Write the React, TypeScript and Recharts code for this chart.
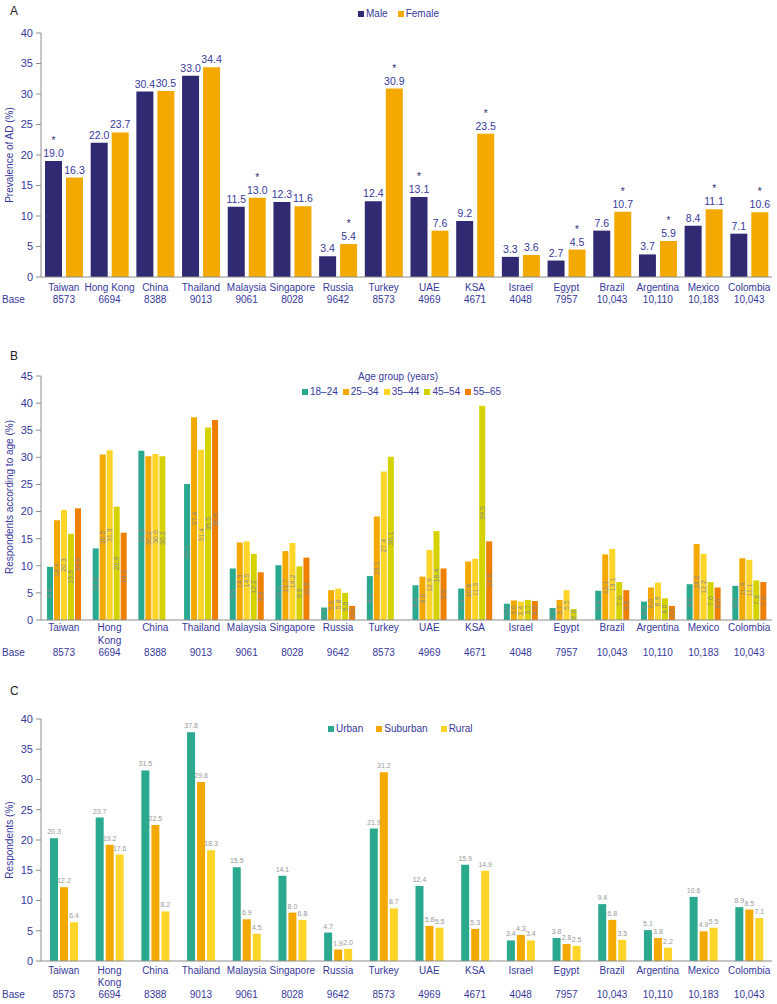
import React from 'react';
import { BarChart, Bar, XAxis, YAxis, LabelList } from 'recharts';

// ---------- shared categories ----------
const countries = ['Taiwan', 'Hong Kong', 'China', 'Thailand', 'Malaysia', 'Singapore', 'Russia', 'Turkey', 'UAE', 'KSA', 'Israel', 'Egypt', 'Brazil', 'Argentina', 'Mexico', 'Colombia'];
const bases = ['8573', '6694', '8388', '9013', '9061', '8028', '9642', '8573', '4969', '4671', '4048', '7957', '10,043', '10,110', '10,183', '10,043'];

// ---------- Panel A: prevalence by sex ----------
const maleAD = [19.0, 22.0, 30.4, 33.0, 11.5, 12.3, 3.4, 12.4, 13.1, 9.2, 3.3, 2.7, 7.6, 3.7, 8.4, 7.1];
const femaleAD = [16.3, 23.7, 30.5, 34.4, 13.0, 11.6, 5.4, 30.9, 7.6, 23.5, 3.6, 4.5, 10.7, 5.9, 11.1, 10.6];
const maleSig = [true, false, false, false, false, false, false, false, true, false, false, false, false, false, false, false];
const femaleSig = [false, false, false, false, true, false, true, true, false, true, false, true, true, true, true, true];
const ticksA = [0, 5, 10, 15, 20, 25, 30, 35, 40];

// ---------- Panel B: by age group ----------
const age1824 = [9.8, 13.2, 31.2, 25.1, 9.5, 10.1, 2.3, 8.1, 6.4, 5.8, 3.0, 2.2, 5.4, 3.4, 6.6, 6.3];
const age2534 = [18.4, 30.5, 30.2, 37.4, 14.3, 12.7, 5.5, 19.1, 8.0, 10.8, 3.6, 3.7, 12.1, 6.0, 14.0, 11.4];
const age3544 = [20.3, 31.3, 30.6, 31.4, 14.5, 14.2, 5.8, 27.4, 12.9, 11.3, 3.4, 5.5, 13.1, 6.9, 12.2, 11.1];
const age4554 = [15.9, 20.9, 30.2, 35.5, 12.2, 9.9, 5.0, 30.1, 16.4, 39.5, 3.7, 2.0, 7.0, 4.0, 7.0, 7.3];
const age5565 = [20.6, 16.1, null, 36.9, 8.8, 11.5, 2.6, null, 9.5, 14.5, 3.5, null, 5.5, 2.6, 6.0, 7.0];
const ageGroups = ['18–24', '25–34', '35–44', '45–54', '55–65'];
const ticksB = [0, 5, 10, 15, 20, 25, 30, 35, 40, 45];

// ---------- Panel C: by residence ----------
const urban = [20.3, 23.7, 31.5, 37.8, 15.5, 14.1, 4.7, 21.9, 12.4, 15.9, 3.4, 3.8, 9.4, 5.1, 10.6, 8.9];
const suburban = [12.2, 19.2, 22.5, 29.6, 6.9, 8.0, 1.9, 31.2, 5.8, 5.3, 4.3, 2.8, 6.8, 3.8, 4.9, 8.5];
const rural = [6.4, 17.6, 8.2, 18.3, 4.5, 6.8, 2.0, 8.7, 5.5, 14.9, 3.4, 2.5, 3.5, 2.2, 5.5, 7.1];
const areas = ['Urban', 'Suburban', 'Rural'];
const ticksC = [0, 5, 10, 15, 20, 25, 30, 35, 40];

const dataA = countries.map((c, i) => ({ country: c, male: maleAD[i], female: femaleAD[i] }));
const dataB = countries.map((c, i) => ({ country: c, a1: age1824[i], a2: age2534[i], a3: age3544[i], a4: age4554[i], a5: age5565[i] }));
const dataC = countries.map((c, i) => ({ country: c, urban: urban[i], suburban: suburban[i], rural: rural[i] }));

// ---------- styling ----------
const FONT = '"Liberation Sans", Arial, Helvetica, sans-serif';
const BLUE = '#37399c';
const AXIS = '#8c8c8c';
const NAVY = '#2f2a72';
const GOLD = '#f4a900';
const TEAL = '#2aa98e';
const YELLOW = '#ffd52a';
const LIME = '#d6d200';
const DORANGE = '#ef7f00';
const ageColors = [TEAL, GOLD, YELLOW, LIME, DORANGE];
const areaColors = [TEAL, GOLD, YELLOW];

function makeTick(nameDy: number, kongDy: number | null, baseDy: number) {
  return (props: any) => {
    const { x, y, payload } = props;
    const name = payload.value as string;
    const i = countries.indexOf(name);
    const wrap = kongDy != null && name === 'Hong Kong';
    const common = { fontSize: 10, fontFamily: FONT, fill: BLUE, textAnchor: 'middle' as const };
    return (
      <g>
        {wrap ? (
          <>
            <text x={x} y={y + nameDy} {...common}>Hong</text>
            <text x={x} y={y + (kongDy as number)} {...common}>Kong</text>
          </>
        ) : (
          <text x={x} y={y + nameDy} {...common}>{name}</text>
        )}
        <text x={x} y={y + baseDy} {...common}>{bases[i]}</text>
        {i === 0 && (
          <text x={2} y={y + baseDy} fontSize={10} fontFamily={FONT} fill={BLUE} textAnchor="start">Base</text>
        )}
      </g>
    );
  };
}

const labelA = (sig: boolean[]) => (props: any) => {
  const { x, y, width, value, index } = props;
  if (value == null) return null;
  const cx = Number(x) + Number(width) / 2;
  return (
    <g>
      <text x={cx} y={Number(y) - 4} textAnchor="middle" fontSize={10.5} fontFamily={FONT} fill={BLUE}>{Number(value).toFixed(1)}</text>
      {sig[index] && (
        <text x={cx} y={Number(y) - 17} textAnchor="middle" fontSize={10} fontFamily={FONT} fill={NAVY}>*</text>
      )}
    </g>
  );
};

const labelB = (props: any) => {
  const { x, y, width, height, value } = props;
  if (value == null) return null;
  const cx = Number(x) + Number(width) / 2;
  const cy = Number(y) + Number(height) / 2;
  return (
    <text x={cx} y={cy} transform={`rotate(-90 ${cx} ${cy})`} textAnchor="middle" dominantBaseline="central" fontSize={7} fontFamily={FONT} fill="#8a8a8a">
      {Number(value).toFixed(1)}
    </text>
  );
};

const labelC = (props: any) => {
  const { x, y, width, value } = props;
  if (value == null) return null;
  const cx = Number(x) + Number(width) / 2;
  return (
    <text x={cx} y={Number(y) - 4} textAnchor="middle" fontSize={7} fontFamily={FONT} fill="#999999">
      {Number(value).toFixed(1)}
    </text>
  );
};

const yTick = { fontSize: 11, fontFamily: FONT, fill: BLUE };

function YLabel({ text, x, y }: { text: string; x: number; y: number }) {
  return (
    <div style={{ position: 'absolute', left: x, top: y, transform: 'translate(-50%, -50%) rotate(-90deg)', whiteSpace: 'nowrap', fontSize: 10, fontFamily: FONT, color: BLUE }}>
      {text}
    </div>
  );
}

function PanelLetter({ text, x, y }: { text: string; x: number; y: number }) {
  return (
    <div style={{ position: 'absolute', left: x, top: y, fontSize: 12, fontFamily: FONT, color: '#222' }}>{text}</div>
  );
}

function LegendItem({ color, label, gap }: { color: string; label: string; gap: number }) {
  return (
    <div style={{ display: 'flex', alignItems: 'center', marginRight: gap }}>
      <div style={{ width: 6, height: 6, background: color, marginRight: 2 }} />
      <span style={{ fontSize: 10, fontFamily: FONT, color: BLUE, whiteSpace: 'nowrap' }}>{label}</span>
    </div>
  );
}

export default function App() {
  return (
    <div style={{ position: 'absolute', left: 0, top: 0, width: 777, height: 1004, background: '#fff', overflow: 'hidden' }}>
      {/* Panel A */}
      <div style={{ position: 'absolute', left: 0, top: 0 }}>
        <BarChart width={777} height={320} data={dataA} margin={{ top: 33, right: 5, bottom: 3, left: 0 }} barSize={17} barGap={4}>
          <XAxis dataKey="country" interval={0} tickLine={false} tickSize={0} tickMargin={0} height={40} stroke={AXIS} tick={makeTick(14, null, 26)} />
          <YAxis width={41} domain={[0, 40]} ticks={ticksA} interval={0} tickSize={5} tickMargin={3} stroke={AXIS} tick={yTick} />
          <Bar dataKey="male" fill={NAVY} isAnimationActive={false}>
            <LabelList dataKey="male" content={labelA(maleSig)} />
          </Bar>
          <Bar dataKey="female" fill={GOLD} isAnimationActive={false}>
            <LabelList dataKey="female" content={labelA(femaleSig)} />
          </Bar>
        </BarChart>
      </div>
      <PanelLetter text="A" x={10} y={4} />
      <YLabel text="Prevalence of AD (%)" x={9} y={155} />
      <div style={{ position: 'absolute', left: 358, top: 8, display: 'flex' }}>
        <LegendItem color={NAVY} label="Male" gap={10} />
        <LegendItem color={GOLD} label="Female" gap={0} />
      </div>

      {/* Panel B */}
      <div style={{ position: 'absolute', left: 0, top: 320 }}>
        <BarChart width={777} height={345} data={dataB} margin={{ top: 56, right: 5, bottom: 5, left: 0 }} barSize={6} barGap={1}>
          <XAxis dataKey="country" interval={0} tickLine={false} tickSize={0} tickMargin={0} height={40} stroke={AXIS} tick={makeTick(11, 24, 36)} />
          <YAxis width={41} domain={[0, 45]} ticks={ticksB} interval={0} tickSize={5} tickMargin={3} stroke={AXIS} tick={yTick} />
          {['a1', 'a2', 'a3', 'a4', 'a5'].map((k, i) => (
            <Bar key={k} dataKey={k} fill={ageColors[i]} isAnimationActive={false}>
              <LabelList dataKey={k} content={labelB} />
            </Bar>
          ))}
        </BarChart>
      </div>
      <PanelLetter text="B" x={10} y={349} />
      <YLabel text="Respondents according to age (%)" x={9} y={497} />
      <div style={{ position: 'absolute', left: 358, top: 371, fontSize: 10, fontFamily: FONT, color: BLUE, whiteSpace: 'nowrap' }}>Age group (years)</div>
      <div style={{ position: 'absolute', left: 302, top: 386, display: 'flex' }}>
        {ageGroups.map((g, i) => (
          <LegendItem key={g} color={ageColors[i]} label={g} gap={5} />
        ))}
      </div>

      {/* Panel C */}
      <div style={{ position: 'absolute', left: 0, top: 660 }}>
        <BarChart width={777} height={344} data={dataC} margin={{ top: 59, right: 5, bottom: 3, left: 0 }} barSize={8} barGap={2}>
          <XAxis dataKey="country" interval={0} tickLine={false} tickSize={0} tickMargin={0} height={40} stroke={AXIS} tick={makeTick(13, 25, 37)} />
          <YAxis width={41} domain={[0, 40]} ticks={ticksC} interval={0} tickSize={5} tickMargin={3} stroke={AXIS} tick={yTick} />
          {['urban', 'suburban', 'rural'].map((k, i) => (
            <Bar key={k} dataKey={k} fill={areaColors[i]} isAnimationActive={false}>
              <LabelList dataKey={k} content={labelC} />
            </Bar>
          ))}
        </BarChart>
      </div>
      <PanelLetter text="C" x={10} y={684} />
      <YLabel text="Respondents (%)" x={9} y={840} />
      <div style={{ position: 'absolute', left: 328, top: 723, display: 'flex' }}>
        {areas.map((a, i) => (
          <LegendItem key={a} color={areaColors[i]} label={a} gap={13} />
        ))}
      </div>
    </div>
  );
}
